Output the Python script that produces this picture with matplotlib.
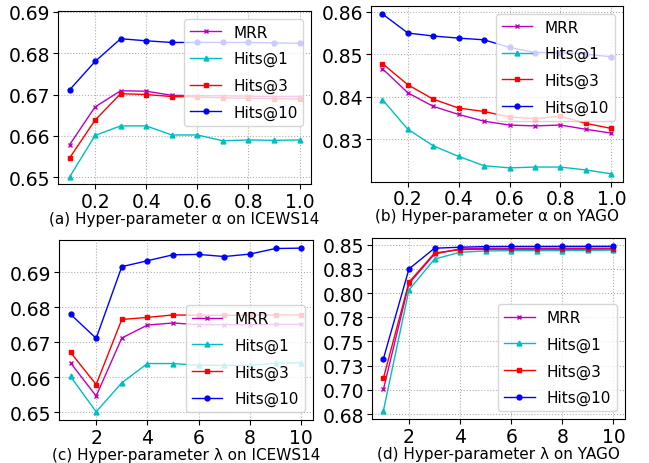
import matplotlib
matplotlib.use("Agg")
import matplotlib.pyplot as plt
import numpy as np

alpha_x = [0.1, 0.2, 0.3, 0.4, 0.5, 0.6, 0.7, 0.8, 0.9, 1.0]
lambda_x = [1, 2, 3, 4, 5, 6, 7, 8, 9, 10]

# (a) alpha on ICEWS14
a_mrr = [0.6578, 0.6670, 0.6709, 0.6708, 0.6698, 0.6697, 0.6697, 0.6696, 0.6695, 0.6695]
a_h1 = [0.6500, 0.6601, 0.6624, 0.6624, 0.6602, 0.6602, 0.6588, 0.6590, 0.6589, 0.6590]
a_h3 = [0.6546, 0.6638, 0.6702, 0.6700, 0.6695, 0.6694, 0.6692, 0.6691, 0.6690, 0.6689]
a_h10 = [0.6711, 0.6780, 0.6835, 0.6830, 0.6826, 0.6826, 0.6826, 0.6826, 0.6825, 0.6824]

# (b) alpha on YAGO
b_mrr = [0.8466, 0.8409, 0.8377, 0.8358, 0.8342, 0.8333, 0.8331, 0.8333, 0.8323, 0.8314]
b_h1 = [0.8393, 0.8323, 0.8284, 0.8259, 0.8237, 0.8232, 0.8234, 0.8234, 0.8227, 0.8218]
b_h3 = [0.8478, 0.8428, 0.8394, 0.8373, 0.8365, 0.8352, 0.8348, 0.8354, 0.8337, 0.8325]
b_h10 = [0.8595, 0.8550, 0.8543, 0.8538, 0.8534, 0.8516, 0.8504, 0.8504, 0.8500, 0.8494]

# (c) lambda on ICEWS14
c_mrr = [0.6641, 0.6546, 0.6712, 0.6749, 0.6755, 0.6750, 0.6750, 0.6750, 0.6751, 0.6751]
c_h1 = [0.6602, 0.6501, 0.6584, 0.6639, 0.6639, 0.6634, 0.6634, 0.6634, 0.6640, 0.6641]
c_h3 = [0.6671, 0.6579, 0.6765, 0.6771, 0.6778, 0.6777, 0.6777, 0.6777, 0.6778, 0.6778]
c_h10 = [0.6780, 0.6711, 0.6916, 0.6933, 0.6950, 0.6951, 0.6945, 0.6952, 0.6968, 0.6969]

# (d) lambda on YAGO
d_mrr = [0.7005, 0.8097, 0.8402, 0.8455, 0.8460, 0.8460, 0.8460, 0.8461, 0.8461, 0.8462]
d_h1 = [0.6785, 0.8031, 0.8350, 0.8420, 0.8434, 0.8437, 0.8437, 0.8437, 0.8440, 0.8443]
d_h3 = [0.7121, 0.8111, 0.8412, 0.8448, 0.8451, 0.8452, 0.8452, 0.8452, 0.8453, 0.8454]
d_h10 = [0.7320, 0.8248, 0.8462, 0.8472, 0.8479, 0.8480, 0.8480, 0.8481, 0.8481, 0.8482]

ab_yticks = [[0.65, 0.66, 0.67, 0.68, 0.69], [0.83, 0.84, 0.85, 0.86]]
c_yticks = [0.65, 0.66, 0.67, 0.68, 0.69]
d_ticks = [0.675, 0.7, 0.725, 0.75, 0.775, 0.8, 0.825, 0.85]
d_ticklabels = ["0.68", "0.70", "0.73", "0.75", "0.78", "0.80", "0.83", "0.85"]

captions = [
    "(a) Hyper-parameter \u03b1 on ICEWS14",
    "(b) Hyper-parameter \u03b1 on YAGO",
    "(c) Hyper-parameter \u03bb on ICEWS14",
    "(d) Hyper-parameter \u03bb on YAGO",
]

fig = plt.figure(figsize=(6.49, 4.64), dpi=100)
positions = [
    [0.0894, 0.601, 0.390, 0.373],
    [0.5716, 0.606, 0.388, 0.379],
    [0.0909, 0.0927, 0.391, 0.388],
    [0.573, 0.0948, 0.390, 0.390],
]
panels = [
    (alpha_x, a_mrr, a_h1, a_h3, a_h10, "upper right"),
    (alpha_x, b_mrr, b_h1, b_h3, b_h10, "upper right"),
    (lambda_x, c_mrr, c_h1, c_h3, c_h10, "lower right"),
    (lambda_x, d_mrr, d_h1, d_h3, d_h10, "lower right"),
]

for i, (x, mrr, h1, h3, h10, loc) in enumerate(panels):
    ax = fig.add_axes(positions[i])
    ax.plot(x, mrr, color="m", marker="x", markersize=3.5, linewidth=1, label="MRR")
    ax.plot(x, h1, color="c", marker="^", markersize=3.5, linewidth=1, label="Hits@1")
    ax.plot(x, h3, color="r", marker="s", markersize=3.5, linewidth=1, label="Hits@3")
    ax.plot(x, h10, color="b", marker="o", markersize=3.5, linewidth=1, label="Hits@10")
    ax.grid(True, linestyle=":", color="#b0b0b0", linewidth=0.8)
    ax.tick_params(labelsize=13.5, pad=2)
    ax.set_xlabel(captions[i], fontsize=11, labelpad=0)
    ax.legend(loc=loc, fontsize=11, labelspacing=0.75)
    if i == 0:
        ax.set_ylim(0.6483, 0.6902)
    if i < 2:
        ax.set_yticks(ab_yticks[i])
        ax.set_xticks([0.2, 0.4, 0.6, 0.8, 1.0])
    else:
        ax.set_xticks([2, 4, 6, 8, 10])
    if i == 2:
        ax.set_yticks(c_yticks)
    if i == 3:
        ax.set_yticks(d_ticks)
        ax.set_yticklabels(d_ticklabels)

fig.savefig("out.png", dpi=100)
